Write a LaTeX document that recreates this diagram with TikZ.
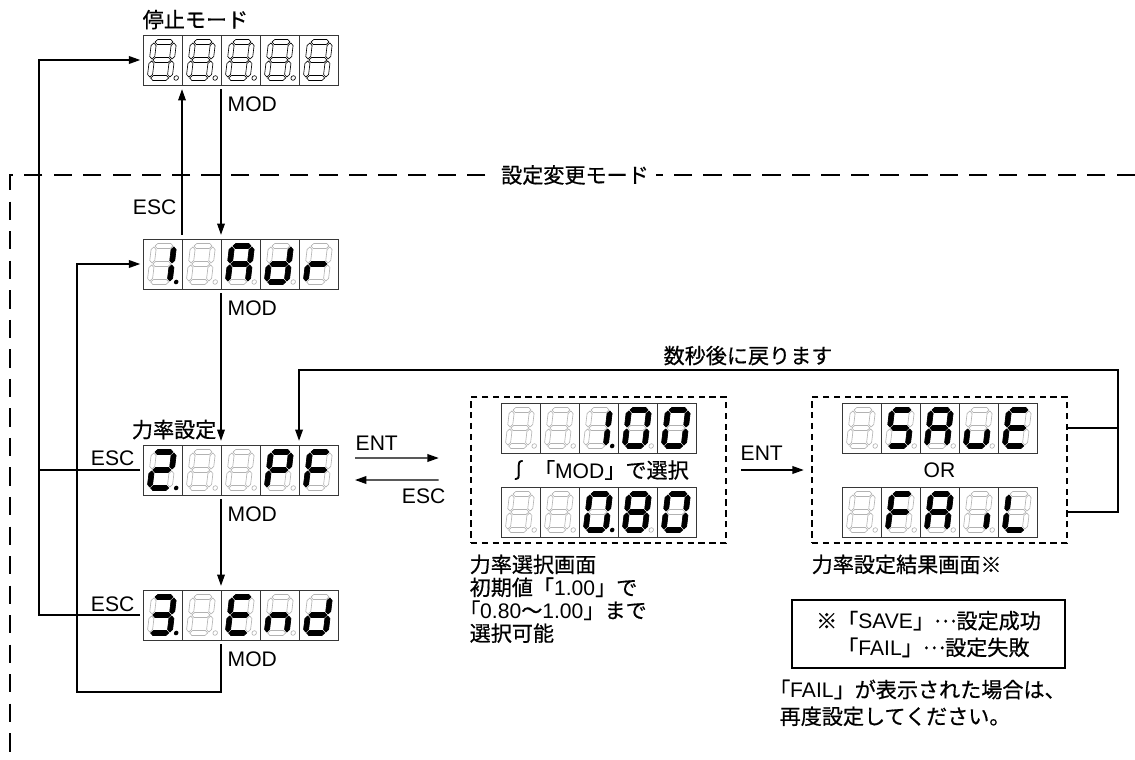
\documentclass[tikz,border=0pt]{standalone}
\usepackage{fontspec}
\setmainfont{Liberation Sans}
\newfontfamily\jpfont{Noto Sans CJK JP}[FakeBold=0.6]
\newcommand{\jp}[1]{{\jpfont#1}}
\newcommand{\midell}{\raisebox{0.3em}{\jp{…}}}
\usetikzlibrary{arrows.meta, positioning, calc}
\definecolor{ledgray}{RGB}{178,178,178}
\definecolor{celledge}{RGB}{55,55,55}

% segments of one digit (pixel units, y down): a b c d e f g = 1..7
\newcommand{\hseg}[1]{(1,#1)--(3.5,#1-2.5)--(16.5,#1-2.5)--(19,#1)--(16.5,#1+2.5)--(3.5,#1+2.5)--cycle}
\newcommand{\vseg}[2]{(#1,#2+1)--(#1+2.5,#2+3.5)--(#1+2.5,#2+14.5)--(#1,#2+17)--(#1-2.5,#2+14.5)--(#1-2.5,#2+3.5)--cycle}
\newcommand{\ledseg}[2]{%
  \ifcase#2\or
    \path[#1] \hseg{0};\or
    \path[#1] \vseg{20}{0};\or
    \path[#1] \vseg{20}{18};\or
    \path[#1] \hseg{36};\or
    \path[#1] \vseg{0}{18};\or
    \path[#1] \vseg{0}{0};\or
    \path[#1] \hseg{18};\fi}

\newcommand{\defglyph}[2]{\expandafter\def\csname ledglyph#1\endcsname{#2}}
\defglyph{x}{0}
\defglyph{8}{1,2,3,4,5,6,7}
\defglyph{0}{1,2,3,4,5,6}
\defglyph{1}{2,3}
\defglyph{2}{1,2,4,5,7}
\defglyph{3}{1,2,3,4,7}
\defglyph{A}{1,2,3,5,6,7}
\defglyph{d}{2,3,4,5,7}
\defglyph{r}{5,7}
\defglyph{P}{1,2,5,6,7}
\defglyph{F}{1,5,6,7}
\defglyph{E}{1,4,5,6,7}
\defglyph{n}{3,5,7}
\defglyph{S}{1,3,4,6,7}
\defglyph{u}{3,4,5}
\defglyph{i}{3}
\defglyph{L}{4,5,6}

% one cell: node, index, glyph, dot style
\newcommand{\ledcell}[4]{%
  \begin{scope}[shift={($(#1.north west)+(#2*39,0)$)}]
    \draw[celledge, line width=0.6pt] (0,0) rectangle (39,50);
    \begin{scope}[shift={(11,7)}, xslant=0.12]
      \foreach \s in {1,...,7} {\ledseg{segoff}{\s}}
      \edef\cellsegs{\csname ledglyph#3\endcsname}
      \foreach \s in \cellsegs {\ledseg{segon}{\s}}
      \path[#4] (26.5,36) circle (2.3);
    \end{scope}
  \end{scope}}
\newcommand{\leddisp}[2]{%
  \foreach \g/\dotst [count=\i from 0] in {#2} {\ledcell{#1}{\i}{\g}{\dotst}}}

\begin{document}
\begin{tikzpicture}[x=0.025cm, y=-0.025cm,
    every node/.style={font=\fontsize{15}{17}\selectfont, inner sep=1pt},
    disp/.style={minimum width=4.875cm, minimum height=1.25cm, inner sep=0pt, outer sep=0pt},
    arr/.style={-{Triangle[length=8pt, width=5.5pt]}, line width=0.8pt},
    link/.style={line width=0.8pt},
    modebox/.style={draw, line width=1.8pt, dash pattern=on 4.5pt off 3.2pt,
                    minimum width=6.375cm, minimum height=3.65cm},
    notebox/.style={draw, line width=1.2pt, minimum width=6.825cm, minimum height=1.7cm,
                    align=left, font=\fontsize{15}{19}\selectfont},
    segoff/.style={draw=ledgray, line width=0.45pt},
    segon/.style={draw=black, fill=black, line width=0.45pt},
    dotoff/.style={draw=ledgray, line width=0.45pt},
    doton/.style={fill=black},
    nodot/.style={}
  ]
  \useasboundingbox (0,0) rectangle (1135,760);

  % setting mode frame
  \draw[line width=1.4pt, dash pattern=on 13pt off 8pt] (1135,175) -- (10,175) -- (10,760);
  \node[fill=white, inner xsep=5pt] (modelbl) at (575,175) {\jp{設定変更モード}};

  \node[disp, anchor=north west] (stop) at (143,35) {};
  \node[disp, anchor=north west] (adr)  at (143,239) {};
  \node[disp, anchor=north west] (pf)   at (143,445) {};
  \node[disp, anchor=north west] (endd) at (143,590) {};

  \node[modebox] (selbox) at (598.5,470) {};
  \node[disp, anchor=north west] (pfhi) at (501,403) {};
  \node[disp, anchor=north west] (pflo) at (501,487) {};
  \node (seltxt) at (selbox.center) {\jp{∫\ 「}MOD\jp{」で選択}};

  \node[modebox] (resbox) at (939.5,470) {};
  \node[disp, anchor=north west] (save) at (842,403) {};
  \node[disp, anchor=north west] (fail) at (842,487) {};
  \node (ortxt) at (resbox.center) {OR};

  \begin{scope}[segoff/.style={draw=black, line width=0.45pt},
                dotoff/.style={draw=black, line width=0.45pt}]
    \leddisp{stop}{x/dotoff,x/dotoff,x/dotoff,x/dotoff,x/nodot}
  \end{scope}
  \leddisp{adr}{1/doton,x/dotoff,A/dotoff,d/dotoff,r/nodot}
  \leddisp{pf}{2/doton,x/dotoff,x/dotoff,P/dotoff,F/nodot}
  \leddisp{endd}{3/doton,x/dotoff,E/dotoff,n/dotoff,d/nodot}
  \leddisp{pfhi}{x/dotoff,x/dotoff,1/doton,0/dotoff,0/nodot}
  \leddisp{pflo}{x/dotoff,x/dotoff,0/doton,8/dotoff,0/nodot}
  \leddisp{save}{x/dotoff,S/dotoff,A/dotoff,u/dotoff,E/nodot}
  \leddisp{fail}{x/dotoff,F/dotoff,A/dotoff,i/dotoff,L/nodot}

  % labels
  \node[anchor=south west] (stoplbl) at (141,31) {\jp{停止モード}};
  \node[anchor=north west] (mod0) at (226,95) {MOD};
  \node[anchor=north west] (mod1) at (226,299) {MOD};
  \node[anchor=north west] (mod2) at (226,505) {MOD};
  \node[anchor=north west] (mod3) at (226,650) {MOD};
  \node[anchor=east] (esc0) at (178,207) {ESC};
  \node[anchor=south east] (esc1) at (136,467) {ESC};
  \node[anchor=south east] (esc2) at (136,613) {ESC};
  \node[anchor=south east] (pflbl) at (218,441) {\jp{力率設定}};
  \node[anchor=south west] (ent1) at (354,452) {ENT};
  \node[anchor=north east] (esc3) at (447,487) {ESC};
  \node[anchor=south west] (ent2) at (739,462) {ENT};
  \node[anchor=south] (backlbl) at (748,367) {\jp{数秒後に戻ります}};
  \node[anchor=north west, align=left, font=\fontsize{15}{16.3}\selectfont] (sellbl) at (468,553)
    {\jp{力率選択画面}\\\jp{初期値「}1.00\jp{」で}\\\jp{\hspace{-0.5em}「}0.80\jp{〜}1.00\jp{」まで}\\\jp{選択可能}};
  \node[anchor=north west] (reslbl) at (810,553) {\jp{力率設定結果画面※}};
  \node[notebox] (note) at (928.5,634)
    {\jp{※「}SAVE\jp{」}\midell\jp{設定成功}\\\jp{\phantom{※}「}FAIL\jp{」}\midell\jp{設定失敗}};
  \node[anchor=north west, align=left, font=\fontsize{15}{19}\selectfont] (faillbl) at (778,678)
    {\jp{\hspace{-0.5em}「}FAIL\jp{」が表示された場合は、}\\\jp{再度設定してください。}};

  % connectors
  \coordinate (escbus) at (39,0);
  \coordinate (modbus) at (77,692);
  \coordinate (backtop) at (1118,370);

  \draw[arr, shorten <=3pt, shorten >=3pt] ($(adr.north west)+(39,0)$) -- ($(stop.south west)+(39,0)$);
  \draw[arr, shorten <=3pt, shorten >=3pt] ($(stop.south west)+(78,0)$) -- ($(adr.north west)+(78,0)$);
  \draw[arr, shorten <=3pt, shorten >=3pt] ($(adr.south west)+(78,0)$) -- ($(pf.north west)+(78,0)$);
  \draw[arr, shorten <=3pt, shorten >=3pt] ($(pf.south west)+(78,0)$) -- ($(endd.north west)+(78,0)$);
  \draw[arr, shorten <=2pt, shorten >=2pt] (endd.west) -| (escbus |- stop.west) -- (stop.west);
  \draw[link, shorten <=2pt] (pf.west) -- (escbus |- pf.west);
  \draw[arr, shorten <=3pt, shorten >=2pt] ($(endd.south west)+(78,0)$) |- (modbus) |- (adr.west);

  \draw[arr] ($(pf.east)+(17,-12)$) -- ($(selbox.west)+(-31,-12)$);
  \draw[arr] ($(selbox.west)+(-31,10)$) -- ($(pf.east)+(17,10)$);
  \draw[arr] ($(selbox.east)+(14,0)$) -- ($(resbox.west)+(-7,0)$);
  \draw[arr, shorten >=3pt] (resbox.east |- save.center) -| (backtop) -| ($(pf.north east)+(-39,0)$);
  \draw[link] (resbox.east |- fail.center) -| (backtop);
\end{tikzpicture}
\end{document}
